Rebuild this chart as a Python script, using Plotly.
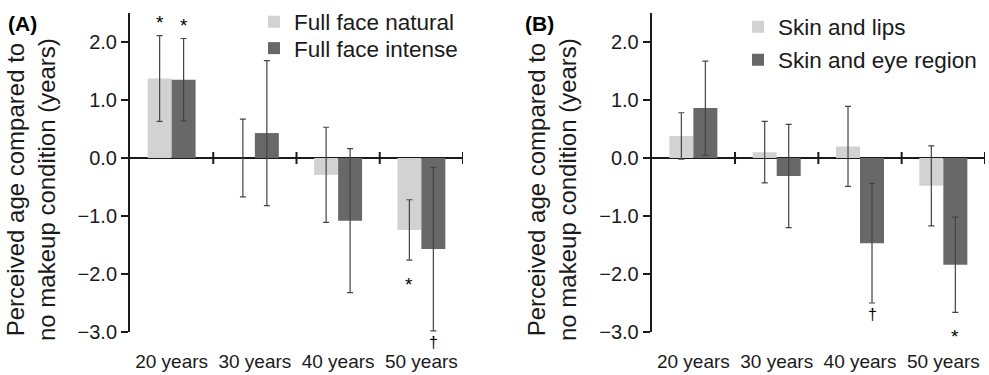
import plotly.graph_objects as go

# ---------------- data ----------------
categories = ["20 years", "30 years", "40 years", "50 years"]

a_names = ["Full face natural", "Full face intense"]
a_natural = [1.37, 0.00, -0.29, -1.24]
a_natural_err = [0.74, 0.67, 0.82, 0.52]
a_intense = [1.35, 0.43, -1.08, -1.57]
a_intense_err = [0.71, 1.25, 1.24, 1.41]
a_natural_sig = ["*", "", "", "*"]
a_intense_sig = ["*", "", "", "†"]

b_names = ["Skin and lips", "Skin and eye region"]
b_lips = [0.38, 0.10, 0.20, -0.48]
b_lips_err = [0.40, 0.53, 0.69, 0.69]
b_eye = [0.86, -0.31, -1.47, -1.84]
b_eye_err = [0.81, 0.89, 1.03, 0.82]
b_lips_sig = ["", "", "", ""]
b_eye_sig = ["", "", "†", "*"]

y_ticks = [-3, -2, -1, 0, 1, 2]
y_ticktext = [f"{v:.1f}".replace("-", "\u2212") for v in y_ticks]
y_range = [-3, 2.5]
y_title = "Perceived age compared to<br>no makeup condition (years)"
panel_labels = ["(A)", "(B)"]

# ---------------- style ----------------
W, H = 989, 375
FONT = "Liberation Sans, Arial, sans-serif"
TXT = "#1a1a1a"
LIGHT = "#d2d2d2"
DARK = "#686868"
ERR = "#444444"

xa_dom = [130 / W, 463 / W]
xb_dom = [651.7 / W, 985 / W]
y_dom = [43 / H, 362 / H]

n = len(categories)
bounds = [i + 0.5 for i in range(n)]

# one legend per entry so each row can sit where the reference has it
legend_ids = ["legend", "legend3", "legend2", "legend4"]
legend_pos = {  # (left x px, row centre y px)
    "legend": (254, 22), "legend3": (254, 48.5),
    "legend2": (738, 27), "legend4": (738, 60),
}

fig = go.Figure()


def add_bars(names, vals, errs, colors, xa, ya, legends):
    for nm, v, e, c, lg in zip(names, vals, errs, colors, legends):
        fig.add_trace(go.Bar(
            name=nm, x=categories, y=v,
            marker=dict(color=c, line=dict(width=0)),
            error_y=dict(type="data", array=e, color=ERR, thickness=1.2, width=3),
            xaxis=xa, yaxis=ya, legend=lg,
        ))


add_bars(a_names, [a_natural, a_intense], [a_natural_err, a_intense_err],
         [LIGHT, DARK], "x", "y", ["legend", "legend3"])
add_bars(b_names, [b_lips, b_eye], [b_lips_err, b_eye_err],
         [LIGHT, DARK], "x2", "y2", ["legend2", "legend4"])


def x_axis(dom, ya):
    return dict(domain=dom, anchor=ya, type="category", showgrid=False, zeroline=False,
                automargin=False,
                showline=False, ticks="outside", ticklen=12, tickcolor="rgba(0,0,0,0)",
                range=[-0.5, n - 0.5],
                tickfont=dict(size=19, color=TXT, family=FONT))


def y_axis(anchor):
    return dict(domain=y_dom, anchor=anchor, range=y_range, showgrid=False,
                automargin=False,
                zeroline=True, zerolinecolor=TXT, zerolinewidth=2,
                tickmode="array", tickvals=y_ticks, ticktext=y_ticktext,
                ticks="outside", ticklen=7, tickwidth=2, tickcolor=TXT,
                showline=True, linewidth=2, linecolor=TXT,
                tickfont=dict(size=20, color=TXT, family=FONT))


# category separator ticks crossing the zero line
shapes = []
for xa, ya in [("x", "y"), ("x2", "y2")]:
    for b in bounds:
        shapes.append(dict(type="line", xref=xa, yref=ya, x0=b, x1=b,
                           ysizemode="pixel", yanchor=0, y0=-6, y1=6,
                           line=dict(color=TXT, width=2)))

annotations = []
for xc, lab, lx in [(31 / W, panel_labels[0], 22 / W), (552 / W, panel_labels[1], 539 / W)]:
    annotations.append(dict(text=y_title, x=xc, y=(H - 190) / H, xref="paper", yref="paper",
                            textangle=-90, showarrow=False, xanchor="center", yanchor="middle",
                            font=dict(size=24, color=TXT, family=FONT)))
    annotations.append(dict(text="<b>" + lab + "</b>", x=lx, y=(H - 23) / H, xref="paper",
                            yref="paper", showarrow=False, xanchor="center", yanchor="middle",
                            font=dict(size=21, color="#000", family=FONT)))

for xa, ya, series in [("x", "y", [(a_natural, a_natural_err, a_natural_sig, -12),
                                   (a_intense, a_intense_err, a_intense_sig, 12)]),
                       ("x2", "y2", [(b_lips, b_lips_err, b_lips_sig, -12),
                                     (b_eye, b_eye_err, b_eye_sig, 12)])]:
    for vals, errs, sigs, xs in series:
        for c, v, e, s in zip(categories, vals, errs, sigs):
            if not s:
                continue
            if v >= 0:
                annotations.append(dict(text=s, x=c, y=v + e, xref=xa, yref=ya, xshift=xs,
                                        yshift=1, yanchor="bottom", showarrow=False,
                                        font=dict(size=19, color="#000", family=FONT)))
            else:
                ysh = -12 if s == "*" else -1
                annotations.append(dict(text=s, x=c, y=v - e, xref=xa, yref=ya, xshift=xs,
                                        yshift=ysh, yanchor="top", showarrow=False,
                                        font=dict(size=19 if s == "*" else 16,
                                                  color="#000", family=FONT)))

legend_layout = {}
for lg in legend_ids:
    lx, ly = legend_pos[lg]
    legend_layout[lg] = dict(x=lx / W, y=1 - ly / H, xanchor="left", yanchor="middle",
                             font=dict(size=22.5, color=TXT, family=FONT),
                             bgcolor="rgba(0,0,0,0)", borderwidth=0)

fig.update_layout(
    template="none",
    width=W, height=H, autosize=False,
    margin=dict(l=0, r=0, t=0, b=0, pad=0),
    paper_bgcolor="white", plot_bgcolor="white",
    font=dict(family=FONT, color=TXT),
    barmode="group", bargap=0.424, bargroupgap=0,
    xaxis=x_axis(xa_dom, "y"), xaxis2=x_axis(xb_dom, "y2"),
    yaxis=y_axis("x"), yaxis2=y_axis("x2"),
    shapes=shapes,
    annotations=annotations,
    showlegend=True,
    **legend_layout,
)

fig.write_html("out.html", config={"responsive": False})
